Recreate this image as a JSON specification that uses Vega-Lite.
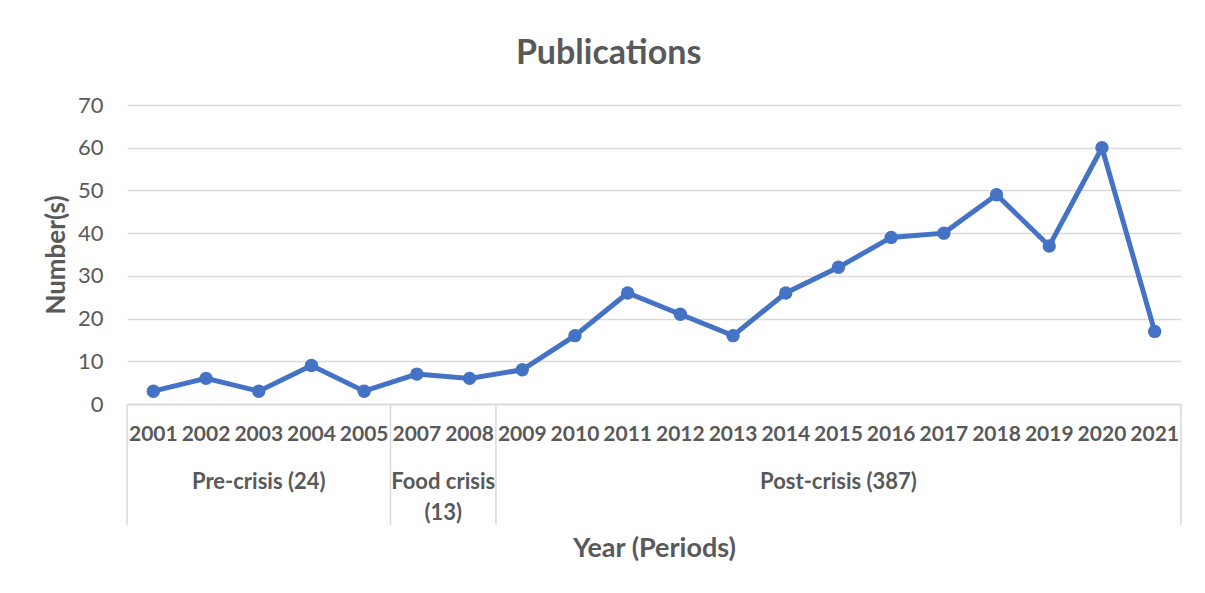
{
  "$schema": "https://vega.github.io/schema/vega-lite/v6.json",
  "padding": {"left": 43, "top": 37, "right": 23, "bottom": 5},
  "background": "white",
  "title": {"text": "Publications", "fontSize": 34, "font": "Lato", "fontWeight": "bold", "color": "#595959", "anchor": "middle", "dx": -4, "offset": 23},
  "config": {"view": {"stroke": null}, "font": "Lato"},
  "datasets": {
    "pubs": [
      {"year": "2001", "count": 3}, {"year": "2002", "count": 6}, {"year": "2003", "count": 3},
      {"year": "2004", "count": 9}, {"year": "2005", "count": 3}, {"year": "2007", "count": 7},
      {"year": "2008", "count": 6}, {"year": "2009", "count": 8}, {"year": "2010", "count": 16},
      {"year": "2011", "count": 26}, {"year": "2012", "count": 21}, {"year": "2013", "count": 16},
      {"year": "2014", "count": 26}, {"year": "2015", "count": 32}, {"year": "2016", "count": 39},
      {"year": "2017", "count": 40}, {"year": "2018", "count": 49}, {"year": "2019", "count": 37},
      {"year": "2020", "count": 60}, {"year": "2021", "count": 17}
    ],
    "periods": [
      {"label": "Pre-crisis (24)", "year": "2003", "edge": "mid"},
      {"label": "Food crisis\n(13)", "year": "2008", "edge": "start"},
      {"label": "Post-crisis (387)", "year": "2015", "edge": "mid"}
    ],
    "bounds": [
      {"year": "2001", "edge": "start"}, {"year": "2007", "edge": "start"},
      {"year": "2009", "edge": "start"}, {"year": "2021", "edge": "end"}
    ]
  },
  "spacing": 0,
  "bounds": "flush",
  "resolve": {"scale": {"x": "independent"}},
  "vconcat": [
    {
      "width": 1054,
      "height": 299,
      "data": {"name": "pubs"},
      "encoding": {
        "x": {"field": "year", "type": "ordinal",
          "scale": {"domain": ["2001","2002","2003","2004","2005","2007","2008","2009","2010","2011","2012","2013","2014","2015","2016","2017","2018","2019","2020","2021"], "paddingInner": 0, "paddingOuter": 0},
          "axis": {"labels": false, "ticks": false, "title": null, "domainColor": "#d9d9d9", "domainWidth": 1.5}},
        "y": {"field": "count", "type": "quantitative", "scale": {"domain": [0, 70]},
          "axis": {"values": [0, 10, 20, 30, 40, 50, 60, 70], "title": "Number(s)", "titleFont": "Lato", "titleFontSize": 26, "titleFontWeight": "bold", "titleColor": "#595959", "titlePadding": 8,
            "labelFont": "Lato", "labelFontSize": 22, "labelColor": "#595959", "labelPadding": 24, "domain": false, "ticks": false, "gridColor": "#d9d9d9", "gridWidth": 1.5}}
      },
      "layer": [
        {"mark": {"type": "line", "color": "#4472C4", "strokeWidth": 5}},
        {"mark": {"type": "point", "filled": true, "size": 180, "color": "#4472C4", "opacity": 1}}
      ]
    },
    {
      "width": 1054,
      "height": 121,
      "layer": [
        {
          "data": {"name": "pubs"},
          "mark": {"type": "text", "font": "Lato", "fontSize": 21, "fontWeight": "bold", "color": "#595959", "baseline": "middle", "align": "center"},
          "encoding": {
            "x": {"field": "year", "type": "ordinal",
              "scale": {"domain": ["2001","2002","2003","2004","2005","2007","2008","2009","2010","2011","2012","2013","2014","2015","2016","2017","2018","2019","2020","2021"], "paddingInner": 0, "paddingOuter": 0},
              "axis": {"labels": false, "ticks": false, "domain": false, "title": "Year (Periods)", "titleFont": "Lato", "titleFontSize": 27, "titleFontWeight": "bold", "titleColor": "#595959", "titlePadding": 10}},
            "y": {"datum": "years", "type": "nominal", "scale": {"type": "point", "padding": 0, "domain": ["years", "periods"], "range": [31, 68]}, "axis": null},
            "text": {"field": "year"}
          }
        },
        {
          "data": {"name": "periods"},
          "transform": [{"filter": "datum.edge === 'mid'"}],
          "mark": {"type": "text", "font": "Lato", "fontSize": 22, "fontWeight": "bold", "color": "#595959", "baseline": "top", "align": "center", "lineBreak": "\n", "lineHeight": 31},
          "encoding": {
            "x": {"field": "year", "type": "ordinal", "bandPosition": 0.5,
              "scale": {"domain": ["2001","2002","2003","2004","2005","2007","2008","2009","2010","2011","2012","2013","2014","2015","2016","2017","2018","2019","2020","2021"], "paddingInner": 0, "paddingOuter": 0},
              "axis": {"labels": false, "ticks": false, "domain": false, "title": "Year (Periods)", "titleFont": "Lato", "titleFontSize": 27, "titleFontWeight": "bold", "titleColor": "#595959", "titlePadding": 10}},
            "y": {"datum": "periods", "type": "nominal"},
            "text": {"field": "label"}
          }
        },
        {
          "data": {"name": "periods"},
          "transform": [{"filter": "datum.edge === 'start'"}],
          "mark": {"type": "text", "font": "Lato", "fontSize": 22, "fontWeight": "bold", "color": "#595959", "baseline": "top", "align": "center", "lineBreak": "\n", "lineHeight": 31},
          "encoding": {
            "x": {"field": "year", "type": "ordinal", "bandPosition": 0,
              "scale": {"domain": ["2001","2002","2003","2004","2005","2007","2008","2009","2010","2011","2012","2013","2014","2015","2016","2017","2018","2019","2020","2021"], "paddingInner": 0, "paddingOuter": 0},
              "axis": {"labels": false, "ticks": false, "domain": false, "title": "Year (Periods)", "titleFont": "Lato", "titleFontSize": 27, "titleFontWeight": "bold", "titleColor": "#595959", "titlePadding": 10}},
            "y": {"datum": "periods", "type": "nominal"},
            "text": {"field": "label"}
          }
        },
        {
          "data": {"name": "bounds"},
          "transform": [{"filter": "datum.edge === 'start'"}],
          "mark": {"type": "rule", "color": "#d9d9d9", "strokeWidth": 1.5},
          "encoding": {
            "x": {"field": "year", "type": "ordinal", "bandPosition": 0,
              "scale": {"domain": ["2001","2002","2003","2004","2005","2007","2008","2009","2010","2011","2012","2013","2014","2015","2016","2017","2018","2019","2020","2021"], "paddingInner": 0, "paddingOuter": 0},
              "axis": {"labels": false, "ticks": false, "domain": false, "title": "Year (Periods)", "titleFont": "Lato", "titleFontSize": 27, "titleFontWeight": "bold", "titleColor": "#595959", "titlePadding": 10}}
          }
        },
        {
          "data": {"name": "bounds"},
          "transform": [{"filter": "datum.edge === 'end'"}],
          "mark": {"type": "rule", "color": "#d9d9d9", "strokeWidth": 1.5},
          "encoding": {
            "x": {"field": "year", "type": "ordinal", "bandPosition": 1,
              "scale": {"domain": ["2001","2002","2003","2004","2005","2007","2008","2009","2010","2011","2012","2013","2014","2015","2016","2017","2018","2019","2020","2021"], "paddingInner": 0, "paddingOuter": 0},
              "axis": {"labels": false, "ticks": false, "domain": false, "title": "Year (Periods)", "titleFont": "Lato", "titleFontSize": 27, "titleFontWeight": "bold", "titleColor": "#595959", "titlePadding": 10}}
          }
        }
      ]
    }
  ]
}
